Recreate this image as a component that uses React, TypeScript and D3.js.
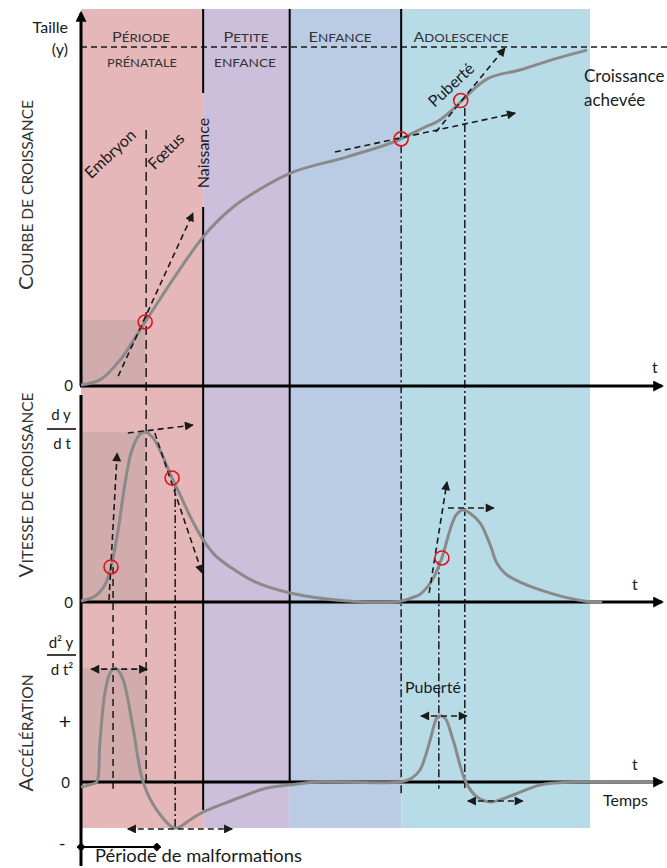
import * as d3 from 'd3';

const W = 667;
const H = 868;
const FONT = 'Lato, "Open Sans", sans-serif';

// Time in arbitrary units: 0 = conception, 100 = end of growth
const phaseBounds = [0, 24, 41, 62.9, 100];
const phaseColors = ['#e6b7b9', '#cbbfdb', '#b9cce4', '#b7dce8'];

// Growth curve y(t), as a percentage of adult height
const growth: [number, number][] = [
  [0, 0.3], [3.7, 1.8], [7.7, 7.7], [12.6, 18.9], [18.9, 33.3], [24, 44],
  [29.9, 52.8], [35.2, 58.1], [40.7, 62.5], [52.3, 67.6], [62.9, 72.9],
  [67.2, 76.1], [70.5, 78.5], [72.9, 81.4], [75, 84.4], [77.4, 87.9],
  [79.8, 90.6], [86.2, 93.2], [93.1, 96.5], [99.4, 99.1],
];

// Growth velocity dy/dt, % of the fetal peak
const velocity: [number, number][] = [
  [0, 0.6], [2.8, 3.5], [4.7, 10], [5.9, 20.6], [7.3, 42.4], [8.6, 68.8],
  [10, 89.4], [11.6, 98.8], [12.6, 100], [14, 97], [15.5, 89.4], [17.9, 72.9],
  [19.5, 62.9], [21.8, 48.2], [24, 36.5], [26.3, 27.6], [29.3, 20.6],
  [34.2, 11.8], [41.1, 5.3], [52.3, 0.6], [62.7, 0.5], [65, 2.5], [66.6, 4.5],
  [69, 12.9], [70.9, 25.9], [72.5, 42.4], [73.7, 51.2], [75, 54.1],
  [76.6, 51.8], [78.4, 46.5], [80.4, 33.5], [81.7, 22.9], [83.7, 15.9],
  [90.2, 7.1], [99.4, 0.3], [102.4, 0],
];

// Acceleration d²y/dt², % of the fetal peak
const acceleration: [number, number][] = [
  [0, -4.4], [2.2, -1.8], [3.1, 0], [3.7, 34.2], [4.7, 78], [5.7, 95.6],
  [6.7, 100], [7.1, 99], [8.3, 89.5], [10.2, 48.2], [12.2, 0], [14.9, -24.6],
  [18.5, -40.4], [21.4, -33.3], [24, -26.3], [29.9, -15.8], [36.5, -5.3],
  [40.9, -2.6], [46.4, 0], [62.7, 0], [65, 3.5], [66.6, 10.5], [68.6, 36.8],
  [69.7, 54.4], [70.3, 57.9], [71.5, 56.1], [73.1, 36.8], [75.6, 0],
  [77.8, -13.2], [80.4, -17.5], [84.9, -11.4], [90.2, -2.6], [96.7, 0],
  [112.4, 0],
];

// Marked points (red circles)
const circlesTop: [number, number][] = [[12.6, 18.9], [62.9, 72.9], [74.6, 84.2]];
const circlesMid: [number, number][] = [[5.9, 20.6], [17.9, 72.9], [70.9, 25.9]];

// Tangent arrows
const tangentsTop = [
  { from: [7.3, 2.9], to: [22, 51] },
  { from: [49.9, 69], to: [85.3, 80.5] },
  { from: [69.7, 74.9], to: [83.3, 99.7] },
];
const tangentsMid = [
  { from: [5.5, 1.2], to: [7.1, 87.6] },
  { from: [9.2, 99.4], to: [22, 104.1] },
  { from: [14.5, 99.4], to: [23.8, 17] },
  { from: [68.4, 5.3], to: [71.9, 70.6] },
  { from: [72.1, 55.3], to: [81.1, 55.3] },
];
// Double-headed span arrows in the acceleration panel
const spansBot = [
  { from: [2, 99], to: [13, 99] },
  { from: [9.2, -41.2], to: [29.7, -41.2] },
  { from: [66.8, 57.9], to: [75.8, 57.9] },
  { from: [76, -16.7], to: [86.8, -16.7] },
];

const x = d3.scaleLinear().domain([0, 100]).range([81, 590]);
const yTop = d3.scaleLinear().domain([0, 100]).range([386, 47]);
const yMid = d3.scaleLinear().domain([0, 100]).range([602, 432]);
const yBot = d3.scaleLinear().domain([0, 100]).range([782, 668]);

// Vertical guides: t, dash style, start and end
const guides = [
  { t: 12.8, dash: '9,5', y1: yTop(75.5), y2: yBot(0) },
  { t: 6.3, dash: '7,5', y1: yMid(20.6), y2: yBot(-6) },
  { t: 18.5, dash: '8,3,2,3', y1: yMid(70), y2: yBot(-40.4) },
  { t: 62.9, dash: '8,3,2,3', y1: yTop(71), y2: yBot(-11) },
  { t: 70.3, dash: '8,3,2,3', y1: yMid(24), y2: yBot(-6) },
  { t: 75.4, dash: '8,3,2,3', y1: yTop(82), y2: yBot(-6) },
];

const TOP = 9;
const BOTTOM = 828;

const mkLine = (y: d3.ScaleLinear<number, number>, curve: d3.CurveFactory) =>
  d3.line<[number, number]>().x((d) => x(d[0])).y((d) => y(d[1])).curve(curve);

const CURVE = '#8a8a8a';
const RED = '#e3131b';
const INK = '#1a1a1a';

// Small caps: the first letter keeps full size, the rest is smaller
function SmallCaps({ text, big, small }: { text: string; big: number; small: number }) {
  return (
    <>
      <tspan fontSize={big}>{text[0]}</tspan>
      <tspan fontSize={small}>{text.slice(1)}</tspan>
    </>
  );
}

export default function App() {
  const gTop = mkLine(yTop, d3.curveMonotoneX);
  const gMid = mkLine(yMid, d3.curveCatmullRom.alpha(0.5));
  const gBot = mkLine(yBot, d3.curveCatmullRom.alpha(0.5));

  const arrow = (
    key: string,
    a: number[],
    b: number[],
    y: d3.ScaleLinear<number, number>,
    double = false,
  ) => (
    <line
      key={key}
      x1={x(a[0])}
      y1={y(a[1])}
      x2={x(b[0])}
      y2={y(b[1])}
      stroke={INK}
      strokeWidth={1.6}
      strokeDasharray="6,4"
      markerEnd="url(#ah)"
      markerStart={double ? 'url(#ah)' : undefined}
    />
  );

  return (
    <svg
      width={W}
      height={H}
      style={{ position: 'absolute', left: 0, top: 0, background: '#fff' }}
      fontFamily={FONT}
    >
      <defs>
        <marker id="ah" viewBox="0 0 10 10" refX="9" refY="5" markerWidth="10" markerHeight="9"
          markerUnits="userSpaceOnUse" orient="auto-start-reverse">
          <path d="M0,0 L10,5 L0,10 z" fill={INK} />
        </marker>
        <marker id="axh" viewBox="0 0 10 10" refX="8" refY="5" markerWidth="11" markerHeight="11"
          markerUnits="userSpaceOnUse" orient="auto">
          <path d="M0,0 L10,5 L0,10 z" fill="#000" />
        </marker>
        <marker id="dia" viewBox="0 0 10 10" refX="5" refY="5" markerWidth="9" markerHeight="9"
          markerUnits="userSpaceOnUse">
          <path d="M5,0 L10,5 L5,10 L0,5 z" fill="#000" />
        </marker>
      </defs>

      {/* phase bands */}
      {phaseColors.map((c, i) => (
        <rect key={i} x={x(phaseBounds[i])} y={TOP} width={x(phaseBounds[i + 1]) - x(phaseBounds[i])}
          height={BOTTOM - TOP} fill={c} />
      ))}

      {/* embryonic shading */}
      <rect x={x(0)} y={yTop(19.5)} width={x(12.6) - x(0)} height={yTop(0) - yTop(19.5)} fill="rgba(110,110,110,0.17)" />
      <rect x={x(0)} y={yMid(100)} width={x(12.6) - x(0)} height={yMid(0) - yMid(100)} fill="rgba(110,110,110,0.17)" />
      <rect x={x(0)} y={yBot(100)} width={x(12.8) - x(0)} height={yBot(0) - yBot(100)} fill="rgba(110,110,110,0.17)" />

      {/* adult height */}
      <line x1={x(0)} x2={W} y1={yTop(100)} y2={yTop(100)} stroke={INK} strokeWidth={1.4} strokeDasharray="6,4" />

      {/* phase boundaries */}
      <line x1={x(24)} x2={x(24)} y1={TOP} y2={93} stroke="#000" strokeWidth={2} />
      <line x1={x(24)} x2={x(24)} y1={207} y2={810} stroke="#000" strokeWidth={2} />
      <line x1={x(41)} x2={x(41)} y1={TOP} y2={yBot(0)} stroke="#000" strokeWidth={2} />
      <line x1={x(62.9)} x2={x(62.9)} y1={TOP} y2={yTop(72.9)} stroke="#000" strokeWidth={2} />

      {/* guides */}
      {guides.map((g, i) => (
        <line key={i} x1={x(g.t)} x2={x(g.t)} y1={g.y1} y2={g.y2} stroke={INK} strokeWidth={1.5} strokeDasharray={g.dash} />
      ))}

      {/* axes */}
      <line x1={81} x2={81} y1={386} y2={TOP + 4} stroke="#000" strokeWidth={3} markerEnd="url(#axh)" />
      <line x1={81} x2={81} y1={395} y2={866} stroke="#000" strokeWidth={3} />
      {[yTop(0), yMid(0), yBot(0)].map((yy, i) => (
        <line key={i} x1={80} x2={W - 5} y1={yy} y2={yy} stroke="#000" strokeWidth={3} markerEnd="url(#axh)" />
      ))}

      {/* curves */}
      <path d={gTop(growth) ?? ''} fill="none" stroke={CURVE} strokeWidth={3} />
      <path d={gMid(velocity) ?? ''} fill="none" stroke={CURVE} strokeWidth={3} />
      <path d={gBot(acceleration) ?? ''} fill="none" stroke={CURVE} strokeWidth={3} />

      {/* tangents and spans */}
      {tangentsTop.map((a, i) => arrow('tt' + i, a.from, a.to, yTop))}
      {tangentsMid.map((a, i) => arrow('tm' + i, a.from, a.to, yMid))}
      {spansBot.map((a, i) => arrow('sb' + i, a.from, a.to, yBot, true))}

      {/* circles */}
      {circlesTop.map((c, i) => (
        <circle key={'ct' + i} cx={x(c[0])} cy={yTop(c[1])} r={7} fill="none" stroke={RED} strokeWidth={1.6} />
      ))}
      {circlesMid.map((c, i) => (
        <circle key={'cm' + i} cx={x(c[0])} cy={yMid(c[1])} r={7} fill="none" stroke={RED} strokeWidth={1.6} />
      ))}

      {/* period of malformations */}
      <line x1={81} x2={x(14.9)} y1={847} y2={847} stroke="#000" strokeWidth={2}
        markerStart="url(#dia)" markerEnd="url(#dia)" />
      <text x={95} y={862} fontSize={17} fill={INK} textLength={207} lengthAdjust="spacingAndGlyphs">
        Période de malformations
      </text>

      {/* phase headers */}
      <g fill="#333" textAnchor="middle">
        <text x={141} y={42} textLength={58} lengthAdjust="spacingAndGlyphs"><SmallCaps text="PÉRIODE" big={14} small={11.5} /></text>
        <text x={142} y={67} fontSize={11.5} textLength={70} lengthAdjust="spacingAndGlyphs">PRÉNATALE</text>
        <text x={246} y={42} textLength={45} lengthAdjust="spacingAndGlyphs"><SmallCaps text="PETITE" big={14} small={11.5} /></text>
        <text x={245} y={67} fontSize={11.5} textLength={62} lengthAdjust="spacingAndGlyphs">ENFANCE</text>
        <text x={340} y={42} textLength={63} lengthAdjust="spacingAndGlyphs"><SmallCaps text="ENFANCE" big={14} small={11.5} /></text>
        <text x={461} y={42} textLength={95} lengthAdjust="spacingAndGlyphs"><SmallCaps text="ADOLESCENCE" big={14} small={11.5} /></text>
      </g>

      {/* left titles */}
      <g fill="#333">
        <text transform="translate(33,195) rotate(-90)" textAnchor="middle" textLength={190} lengthAdjust="spacingAndGlyphs">
          <SmallCaps text="COURBE DE CROISSANCE" big={20} small={15} />
        </text>
        <text transform="translate(33,485) rotate(-90)" textAnchor="middle" textLength={185} lengthAdjust="spacingAndGlyphs">
          <SmallCaps text="VITESSE DE CROISSANCE" big={20} small={15} />
        </text>
        <text transform="translate(33,733) rotate(-90)" textAnchor="middle" textLength={117} lengthAdjust="spacingAndGlyphs">
          <SmallCaps text="ACCÉLÉRATION" big={20} small={15} />
        </text>
      </g>

      {/* y labels */}
      <g fill={INK} fontSize={16}>
        <text x={68} y={33} textAnchor="end">Taille</text>
        <text x={68} y={55} textAnchor="end">(y)</text>
        <text x={73} y={391} textAnchor="end" fontSize={15}>0</text>
        <text x={73} y={608} textAnchor="end" fontSize={15}>0</text>
        <text x={70} y={788} textAnchor="end" fontSize={15}>0</text>
        <text x={61} y={420} textAnchor="middle" fontSize={15}>d y</text>
        <line x1={47} x2={76} y1={429} y2={429} stroke="#000" strokeWidth={1.5} />
        <text x={62} y={449} textAnchor="middle" fontSize={15}>d t</text>
        <text x={61} y={648} textAnchor="middle" fontSize={15}>d² y</text>
        <line x1={47} x2={76} y1={655} y2={655} stroke="#000" strokeWidth={1.5} />
        <text x={62} y={675} textAnchor="middle" fontSize={15}>d t²</text>
        <text x={65} y={729} textAnchor="middle" fontSize={22}>+</text>
        <text x={62} y={850} textAnchor="middle" fontSize={18}>-</text>
      </g>

      {/* annotations */}
      <g fill={INK} fontSize={16}>
        <text transform="translate(114,158) rotate(-43)" textAnchor="middle">Embryon</text>
        <text transform="translate(170,155) rotate(-45)" textAnchor="middle">Fœtus</text>
        <text transform="translate(209,153) rotate(-90)" textAnchor="middle">Naissance</text>
        <text transform="translate(455,89) rotate(-43)" textAnchor="middle">Puberté</text>
        <text x={584} y={82} fontSize={17}>Croissance</text>
        <text x={584} y={106} fontSize={17}>achevée</text>
        <text x={405} y={693}>Puberté</text>
        <text x={652} y={373}>t</text>
        <text x={632} y={590}>t</text>
        <text x={632} y={770}>t</text>
        <text x={603} y={806}>Temps</text>
      </g>
    </svg>
  );
}
